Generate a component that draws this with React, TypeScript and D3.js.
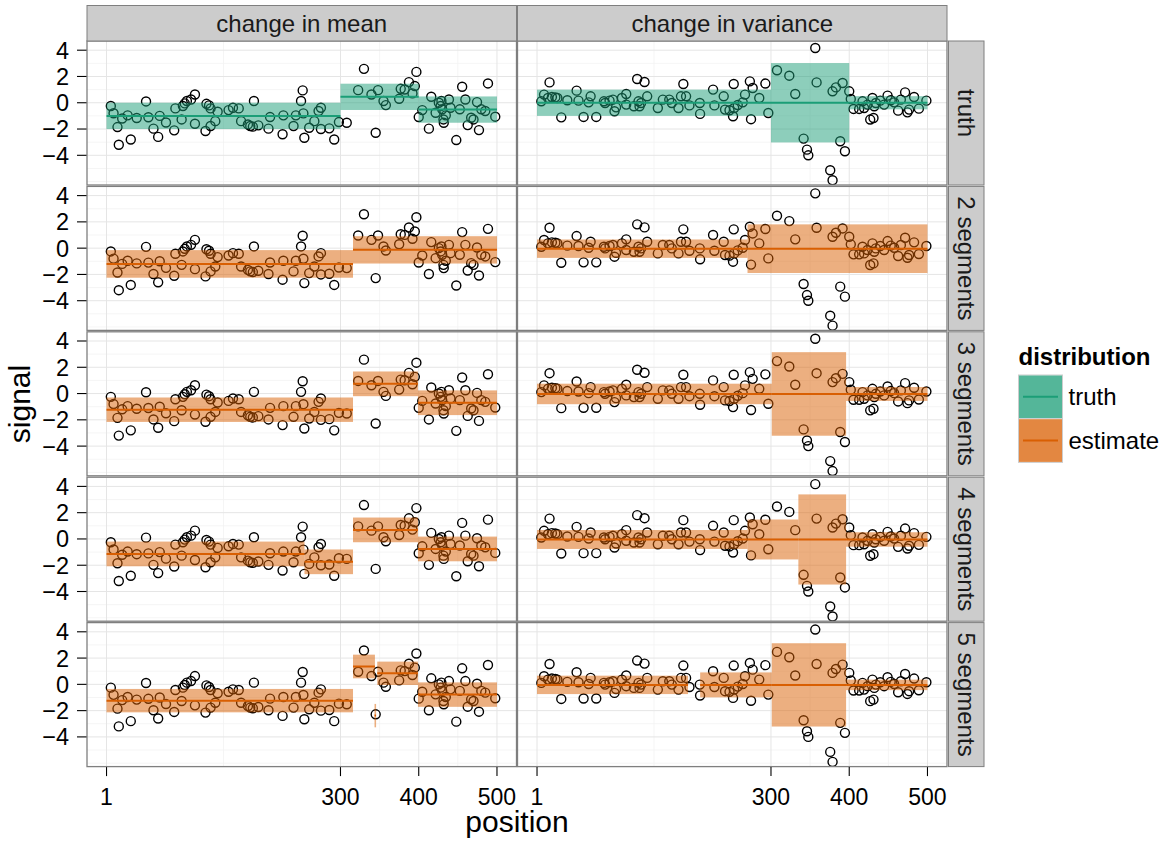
import React from "react";
import * as d3 from "d3";

const facetCols = ["change in mean", "change in variance"];
const facetRows = ["truth", "2 segments", "3 segments", "4 segments", "5 segments"];
const xTicks = [1, 300, 400, 500];
const yTicks = [-4, -2, 0, 2, 4];
const xMinor = [150.5, 350, 450];
const yMinor = [-6, -5, -3, -1, 1, 3];
const legendLabels = ["truth", "estimate"];
const legendColors = ["#1b9e77", "#d95f02"];

const meanPos = [6.5, 10, 15, 16.7, 21, 28, 32, 39.6, 51.5, 54.5, 61, 67, 69, 77, 87.5, 89, 97, 98.6, 101, 103.7, 109, 114, 114, 127.5, 128.7, 132, 134, 134, 140, 143, 157, 162.6, 170, 173, 181.7, 184.7, 188, 189.4, 195, 208, 210, 226, 227, 240, 243, 249.6, 251.7, 252.6, 253.8, 260, 266.6, 272, 275, 275, 285.7, 292, 298, 308, 322.6, 330, 339.6, 345, 348, 355, 358, 375, 377, 382, 387.5, 392, 395, 397, 400, 404.5, 413, 416, 421.6, 425.7, 428, 429, 430, 431.6, 432, 434.6, 438.6, 440.6, 448, 452.5, 455.5, 459.6, 462.6, 467, 470, 474.5, 477, 480, 485, 488.5, 497.8];
const meanVal = [-0.25, -0.8, -1.85, -3.2, -1.2, -0.96, -2.8, -1.16, 0.1, -1.1, -1.97, -2.6, -1.0, -1.5, -2.1, -0.43, -1.27, -0.25, -0.05, 0.13, 0.25, 0.63, -1.6, -2.15, -0.08, -0.2, -1.77, -0.43, -1.4, -0.68, -0.56, -0.38, -0.43, -1.4, -1.65, -1.77, -1.82, 0.13, -1.72, -1.97, -1.09, -2.4, -0.96, -1.77, -0.96, 0.13, 0.94, -0.81, -2.66, -1.9, -1.4, -0.63, -0.38, -2.0, -1.95, -2.8, -1.47, -1.52, 0.96, 2.58, 0.63, -2.28, 0.96, 0.13, -0.18, 0.3, 1.06, 1.01, 1.57, 0.71, 1.27, 2.35, -1.09, -0.56, -1.97, 0.46, -0.76, 0, -0.25, 0.13, -0.5, -1.27, -1.52, -0.96, 0.25, -0.38, -2.84, -0.5, 1.22, 0.25, -1.7, -1.14, -1.27, 0.05, -2.08, -0.5, -0.63, 1.47, -1.06];

const varPos = [6.5, 10, 15, 17, 20, 24.4, 27, 32, 39.7, 51.6, 54, 60.5, 67, 69.5, 76.7, 86.5, 88, 93.7, 98, 100, 102, 109.5, 115, 115, 124.8, 129, 130.7, 132, 134, 138.4, 141.8, 155.4, 161.8, 170, 173.3, 181.8, 185, 188, 191.5, 195.8, 209, 209.4, 226, 227.7, 239.6, 241.3, 247, 251.5, 252.4, 253, 257.5, 263.9, 266.8, 273, 274.5, 276.6, 285, 292.8, 296.6, 307.7, 323.4, 331, 341.7, 346, 347.7, 356.6, 358.3, 375.7, 378.7, 378.7, 383, 388.5, 391.5, 394.5, 400, 402, 405.5, 412.7, 417, 419, 423.4, 426.8, 429.7, 431, 432, 434, 439.6, 444.6, 449, 453, 457.4, 462.5, 466, 471.4, 474.4, 476.5, 482.9, 489, 498.6];
const varVal = [0.11, 0.62, 0.36, 1.55, 0.44, 0.41, 0.36, -1.11, 0.19, 0.92, 0.16, -1.08, 0.03, 0.49, -1.08, 0.11, -0.02, 0.16, 0.24, -0.65, -0.35, 0.36, 0.67, -0.14, -0.27, 1.81, 0.11, -0.27, -0.02, 1.58, 0.49, -0.4, 0.24, 0.24, -0.02, -0.4, 0.49, 1.43, 0.49, -0.2, -0.02, -0.85, 1.0, -0.2, 0.49, -0.52, -0.57, -1.03, 1.43, -0.4, -0.17, 0.03, 0.62, 1.63, -1.25, 1.12, 0.36, 1.46, -0.78, 2.47, 2.06, 0.67, -2.73, -3.57, -4.0, 4.17, 1.55, -5.14, -5.9, 0.87, 1.17, -2.93, 1.5, -3.69, 0.87, 0.29, -0.47, -0.47, 0.11, -0.4, -0.14, -1.28, 0.36, -1.16, -0.27, -0.02, 0.16, -0.14, 0.54, 0.19, 0.03, -0.6, 0.24, 0.79, -0.73, -0.52, 0.44, -0.45, 0.16];

// segments (column index, row index, start, end, mean, sd)
const segCol = [0, 0, 0, 0, 0, 0, 0, 0, 0, 0, 0, 0, 0, 0, 0, 0, 0, 1, 1, 1, 1, 1, 1, 1, 1, 1, 1, 1, 1, 1, 1, 1, 1, 1];
const segRow = [0, 0, 0, 1, 1, 2, 2, 2, 3, 3, 3, 3, 4, 4, 4, 4, 4, 0, 0, 0, 1, 1, 2, 2, 2, 3, 3, 3, 3, 4, 4, 4, 4];
const segStart = [1, 300, 400, 1, 316, 1, 316, 399, 1, 254, 316, 399, 1, 316, 343.5, 347, 399, 1, 300, 400, 1, 270, 1, 301, 396, 1, 270, 335, 396, 1, 209.5, 301, 396];
const segEnd = [300, 400, 500, 316, 500, 316, 399, 500, 254, 316, 399, 500, 316, 344, 345.5, 399, 500, 300, 400, 500, 270, 500, 301, 396, 500, 270, 335, 396, 500, 194, 301, 396, 500];
const segMean = [-1.0, 0.45, -0.52, -1.2, -0.13, -1.23, 0.74, -0.7, -1.14, -1.74, 0.69, -0.76, -1.24, 1.36, -2.38, 0.84, -0.78, 0, 0, 0, -0.04, -0.04, -0.03, -0.03, -0.03, -0.04, -0.04, -0.04, -0.04, -0.04, -0.04, -0.04, -0.04];
const segSd = [1, 1, 1, 1.05, 1.04, 0.93, 0.94, 0.94, 0.94, 0.94, 0.94, 0.94, 0.89, 0.9, 0.89, 0.89, 0.93, 1, 3.02, 0.5, 0.7, 1.85, 0.78, 3.18, 0.53, 0.72, 1.52, 3.43, 0.55, 0.7, 0.95, 3.17, 0.4];

const W = 1164;
const H = 841;
const panelX = [87, 517.5];
const panelW = 429.5;
const panelH = 144;
const rowTop = (r: number) => 41 + r * 145.4;
const FONT = "'Liberation Sans', Arial, Helvetica, sans-serif";

export default function App() {
  const x = d3.scaleLinear().domain([1 - 24.95, 500 + 24.95]).range([0, panelW]);
  const y = d3.scaleLinear().domain([-6.26, 4.7]).range([panelH, 0]);
  const fmt = (v: number) => (v < 0 ? "\u2212" + Math.abs(v) : String(v));

  const panels: React.ReactNode[] = [];
  for (let c = 0; c < 2; c++) {
    const pos = c === 0 ? meanPos : varPos;
    const val = c === 0 ? meanVal : varVal;
    for (let r = 0; r < 5; r++) {
      const color = r === 0 ? legendColors[0] : legendColors[1];
      const segs = segCol
        .map((sc, i) => i)
        .filter((i) => segCol[i] === c && segRow[i] === r);
      const cid = `clip-${c}-${r}`;
      panels.push(
        <g key={cid} transform={`translate(${panelX[c]},${rowTop(r)})`}>
          <defs>
            <clipPath id={cid}>
              <rect x={0} y={0} width={panelW} height={panelH} />
            </clipPath>
          </defs>
          <rect x={0} y={0} width={panelW} height={panelH} fill="#ffffff" />
          <g clipPath={`url(#${cid})`}>
            {xMinor.map((t) => (
              <line key={"xm" + t} x1={x(t)} x2={x(t)} y1={0} y2={panelH} stroke="#f2f2f2" strokeWidth={0.8} />
            ))}
            {yMinor.map((t) => (
              <line key={"ym" + t} x1={0} x2={panelW} y1={y(t)} y2={y(t)} stroke="#f2f2f2" strokeWidth={0.8} />
            ))}
            {xTicks.map((t) => (
              <line key={"xM" + t} x1={x(t)} x2={x(t)} y1={0} y2={panelH} stroke="#e5e5e5" strokeWidth={1} />
            ))}
            {yTicks.map((t) => (
              <line key={"yM" + t} x1={0} x2={panelW} y1={y(t)} y2={y(t)} stroke="#e5e5e5" strokeWidth={1} />
            ))}
            {pos.map((p, i) => (
              <circle key={"p" + i} cx={x(p)} cy={y(val[i])} r={4.5} fill="none" stroke="#000" strokeWidth={1.4} />
            ))}
            {segs.map((i) => (
              <rect
                key={"s" + i}
                x={x(segStart[i])}
                y={y(segMean[i] + segSd[i])}
                width={x(segEnd[i]) - x(segStart[i])}
                height={y(segMean[i] - segSd[i]) - y(segMean[i] + segSd[i])}
                fill={color}
                fillOpacity={0.5}
              />
            ))}
            {segs.map((i) => (
              <line
                key={"l" + i}
                x1={x(segStart[i])}
                x2={x(segEnd[i])}
                y1={y(segMean[i])}
                y2={y(segMean[i])}
                stroke={color}
                strokeWidth={2}
              />
            ))}
          </g>
          <rect x={0} y={0} width={panelW} height={panelH} fill="none" stroke="#7f7f7f" strokeWidth={1.3} />
        </g>
      );
    }
  }

  return (
    <svg width={W} height={H} style={{ position: "absolute", left: 0, top: 0, display: "block" }} fontFamily={FONT}>
      <rect x={0} y={0} width={W} height={H} fill="#ffffff" />
      {panels}
      {/* top strips */}
      {facetCols.map((lab, c) => (
        <g key={lab}>
          <rect x={panelX[c]} y={5.5} width={panelW} height={35.5} fill="#cccccc" stroke="#7f7f7f" strokeWidth={1} />
          <text x={panelX[c] + panelW / 2} y={31.5} textAnchor="middle" fontSize={24} fill="#1a1a1a">
            {lab}
          </text>
        </g>
      ))}
      {/* right strips */}
      {facetRows.map((lab, r) => (
        <g key={lab}>
          <rect x={948.5} y={rowTop(r)} width={35.5} height={panelH} fill="#cccccc" stroke="#7f7f7f" strokeWidth={1} />
          <text
            transform={`translate(957.5,${rowTop(r) + panelH / 2}) rotate(90)`}
            textAnchor="middle"
            fontSize={24}
            fill="#1a1a1a"
          >
            {lab}
          </text>
        </g>
      ))}
      {/* y axes */}
      {facetRows.map((lab, r) => (
        <g key={"ya" + r} transform={`translate(0,${rowTop(r)})`}>
          {yTicks.map((t) => (
            <g key={t}>
              <line x1={77} x2={86.5} y1={y(t)} y2={y(t)} stroke="#000" strokeWidth={1.1} />
              <text x={69} y={y(t)} dy="0.36em" textAnchor="end" fontSize={23.5} fill="#000">
                {fmt(t)}
              </text>
            </g>
          ))}
        </g>
      ))}
      {/* x axes */}
      {panelX.map((px, c) => (
        <g key={"xa" + c} transform={`translate(${px},${rowTop(4) + panelH})`}>
          {xTicks.map((t) => (
            <g key={t}>
              <line x1={x(t)} x2={x(t)} y1={0.5} y2={9.5} stroke="#000" strokeWidth={1.1} />
              <text x={x(t)} y={38.5} textAnchor="middle" fontSize={23} fill="#000">
                {t}
              </text>
            </g>
          ))}
        </g>
      ))}
      {/* axis titles */}
      <text x={(panelX[0] + panelX[1] + panelW) / 2} y={832} textAnchor="middle" fontSize={30} fill="#000">
        position
      </text>
      <text transform={`translate(30,404) rotate(-90)`} textAnchor="middle" fontSize={30} fill="#000">
        signal
      </text>
      {/* legend */}
      <text x={1018.5} y={364.5} fontSize={24} fontWeight="bold" fill="#000">
        distribution
      </text>
      {legendLabels.map((lab, i) => {
        const ky = 375 + i * 43.7;
        return (
          <g key={lab}>
            <rect x={1018.5} y={ky} width={44} height={43.7} fill="#ffffff" stroke="#cccccc" strokeWidth={1} />
            <rect x={1019} y={ky + 0.5} width={43} height={42.7} fill={legendColors[i]} fillOpacity={0.75} />
            <line x1={1023} x2={1058} y1={ky + 21.85} y2={ky + 21.85} stroke={legendColors[i]} strokeWidth={2} />
            <text x={1068.5} y={ky + 21.85} dy="0.36em" fontSize={24} fill="#000">
              {lab}
            </text>
          </g>
        );
      })}
    </svg>
  );
}
